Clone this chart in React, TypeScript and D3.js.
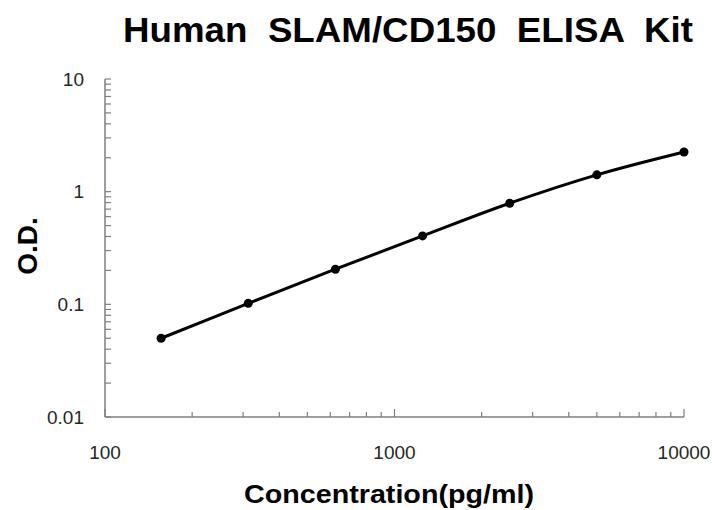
import React from 'react'
import * as d3 from 'd3'

// standard curve readings
const concentrations = [156.25, 312.5, 625, 1250, 2500, 5000, 10000]
const odValues = [0.05, 0.102, 0.205, 0.405, 0.79, 1.41, 2.25]

const xTickLabels = [100, 1000, 10000]
const yTickLabels = [0.01, 0.1, 1, 10]

const title = 'Human  SLAM/CD150  ELISA  Kit'
const xTitle = 'Concentration(pg/ml)'
const yTitle = 'O.D.'

const width = 712
const height = 510

export default function App() {
  const x = d3.scaleLog().domain([100, 10000]).range([105, 684])
  const y = d3.scaleLog().domain([0.01, 10]).range([417, 79])

  const points = concentrations.map((c, i) => [x(c), y(odValues[i])] as [number, number])

  const line = d3.line().curve(d3.curveCatmullRom.alpha(0.5))

  // minor ticks (2..9 in every decade)
  const xMinor: number[] = []
  for (let d = 100; d < 10000; d *= 10) {
    for (let k = 2; k <= 9; k++) xMinor.push(d * k)
  }
  const yMinor: number[] = []
  for (let d = 0.01; d < 9; d *= 10) {
    for (let k = 2; k <= 9; k++) yMinor.push(d * k)
  }

  const axisColor = '#7f7f7f'
  const font = 'Arial, "Liberation Sans", sans-serif'

  return (
    <svg
      width={width}
      height={height}
      style={{ position: 'absolute', left: 0, top: 0, background: '#fff' }}
    >
      <rect width={width} height={height} fill="#fff" />

      {/* title */}
      <text
        x={123}
        y={42}
        fontFamily={font}
        fontWeight="bold"
        fontSize={35}
        textLength={570}
        lengthAdjust="spacingAndGlyphs"
        style={{ whiteSpace: 'pre' }}
        fill="#000"
      >
        {title}
      </text>

      {/* axes lines */}
      <line x1={x(100)} x2={x(100)} y1={y(10)} y2={y(0.01)} stroke={axisColor} strokeWidth={1.5} />
      <line x1={x(100)} x2={x(10000)} y1={y(0.01)} y2={y(0.01)} stroke={axisColor} strokeWidth={1.5} />

      {/* y ticks */}
      {yTickLabels.map(v => (
        <line key={'ym' + v} x1={x(100)} x2={x(100) + 6} y1={y(v)} y2={y(v)} stroke={axisColor} strokeWidth={1.2} />
      ))}
      {yMinor.map(v => (
        <line key={'yn' + v} x1={x(100)} x2={x(100) + 6} y1={y(v)} y2={y(v)} stroke={axisColor} strokeWidth={1.2} />
      ))}

      {/* x ticks */}
      {xTickLabels.map(v => (
        <line key={'xm' + v} x1={x(v)} x2={x(v)} y1={y(0.01)} y2={y(0.01) - 8} stroke={axisColor} strokeWidth={1.2} />
      ))}
      {xMinor.map(v => (
        <line key={'xn' + v} x1={x(v)} x2={x(v)} y1={y(0.01)} y2={y(0.01) - 5} stroke={axisColor} strokeWidth={1.2} />
      ))}

      {/* tick labels */}
      {yTickLabels.map(v => (
        <text
          key={'yl' + v}
          x={84}
          y={y(v)}
          dy="0.35em"
          textAnchor="end"
          fontFamily={font}
          fontSize={19}
          fill="#262626"
        >
          {v}
        </text>
      ))}
      {xTickLabels.map(v => (
        <text
          key={'xl' + v}
          x={x(v)}
          y={459}
          textAnchor="middle"
          fontFamily={font}
          fontSize={19}
          fill="#262626"
        >
          {v}
        </text>
      ))}

      {/* axis titles */}
      <text
        x={389}
        y={503}
        textAnchor="middle"
        fontFamily={font}
        fontWeight="bold"
        fontSize={25}
        textLength={290}
        lengthAdjust="spacingAndGlyphs"
        fill="#000"
      >
        {xTitle}
      </text>
      <text
        transform={`translate(37, 246) rotate(-90)`}
        textAnchor="middle"
        fontFamily={font}
        fontWeight="bold"
        fontSize={28}
        fill="#000"
      >
        {yTitle}
      </text>

      {/* curve */}
      <path d={line(points) || ''} fill="none" stroke="#000" strokeWidth={3} />
      {points.map((p, i) => (
        <circle key={i} cx={p[0]} cy={p[1]} r={4.5} fill="#000" />
      ))}
    </svg>
  )
}
